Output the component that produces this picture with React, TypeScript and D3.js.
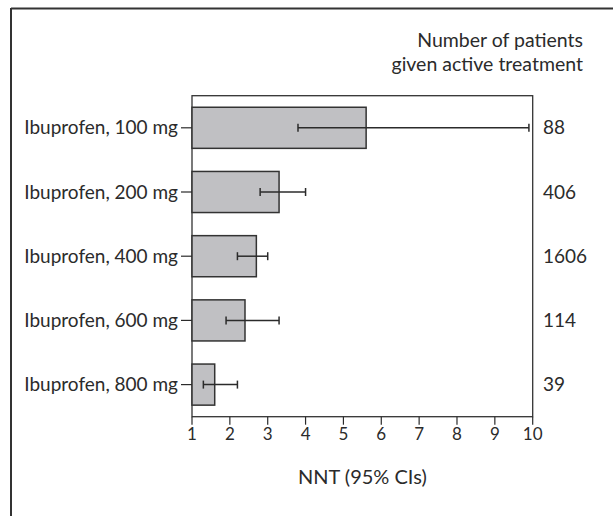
import React from "react";
import * as d3 from "d3";

// Ibuprofen dose groups, number-needed-to-treat with 95% confidence intervals
const doses = ["Ibuprofen, 100 mg", "Ibuprofen, 200 mg", "Ibuprofen, 400 mg", "Ibuprofen, 600 mg", "Ibuprofen, 800 mg"];
const nnt = [5.6, 3.3, 2.7, 2.4, 1.6];
const ciLow = [3.8, 2.8, 2.2, 1.9, 1.3];
const ciHigh = [9.9, 4.0, 3.0, 3.3, 2.2];
const patients = ["88", "406", "1606", "114", "39"];
const xTicks = [1, 2, 3, 4, 5, 6, 7, 8, 9, 10];

const W = 613;
const H = 516;
const plot = { left: 192, right: 532.7, top: 95.7, bottom: 416.7 };
const FONT = "Lato, 'Open Sans', sans-serif";
const INK = "#2b2b2b";

export default function App() {
  const x = d3.scaleLinear().domain([1, 10]).range([plot.left, plot.right]);
  const y = d3
    .scaleBand<string>()
    .domain(doses)
    .range([plot.top, plot.bottom])
    .paddingInner(0.36)
    .paddingOuter(0.18);
  const bw = y.bandwidth();
  const capH = 8;

  return (
    <svg
      width={W}
      height={H}
      viewBox={`0 0 ${W} ${H}`}
      style={{ position: "absolute", left: 0, top: 0, background: "#fff" }}
      fontFamily={FONT}
    >
      {/* page frame: top and left rules */}
      <line x1={11} x2={W} y1={8.5} y2={8.5} stroke="#333" strokeWidth={2} />
      <line x1={11} x2={11} y1={8} y2={H} stroke="#333" strokeWidth={2} />

      {/* column header */}
      <text x={583} y={46.5} textAnchor="end" fontSize={19.5} fill={INK}>
        Number of patients
      </text>
      <text x={583} y={71} textAnchor="end" fontSize={19.5} fill={INK}>
        given active treatment
      </text>

      {/* plot frame */}
      <rect
        x={plot.left}
        y={plot.top}
        width={plot.right - plot.left}
        height={plot.bottom - plot.top}
        fill="none"
        stroke="#333"
        strokeWidth={1.3}
      />

      {/* bars */}
      {doses.map((d, i) => {
        const y0 = y(d)!;
        const cy = y0 + bw / 2;
        return (
          <g key={d}>
            <rect
              x={x(1)}
              y={y0}
              width={x(nnt[i]) - x(1)}
              height={bw}
              fill="#c0c0c3"
              stroke="#333"
              strokeWidth={1.5}
            />
            <line x1={x(ciLow[i])} x2={x(ciHigh[i])} y1={cy} y2={cy} stroke={INK} strokeWidth={1.5} />
            <line x1={x(ciLow[i])} x2={x(ciLow[i])} y1={cy - capH / 2} y2={cy + capH / 2} stroke={INK} strokeWidth={1.5} />
            <line x1={x(ciHigh[i])} x2={x(ciHigh[i])} y1={cy - capH / 2} y2={cy + capH / 2} stroke={INK} strokeWidth={1.5} />
            {/* category tick and label */}
            <line x1={plot.left - 11} x2={plot.left} y1={cy} y2={cy} stroke={INK} strokeWidth={1.2} />
            <text x={plot.left - 14} y={cy} dy="0.35em" textAnchor="end" fontSize={19} fill={INK}>
              {d}
            </text>
            {/* patient count */}
            <text x={543} y={cy} dy="0.35em" textAnchor="start" fontSize={19} fill={INK}>
              {patients[i]}
            </text>
          </g>
        );
      })}

      {/* x axis ticks */}
      {xTicks.map((t) => (
        <g key={t}>
          <line x1={x(t)} x2={x(t)} y1={plot.bottom} y2={plot.bottom + 8} stroke={INK} strokeWidth={1.2} />
          <text x={x(t)} y={439.5} textAnchor="middle" fontSize={17} fill={INK}>
            {t}
          </text>
        </g>
      ))}

      <text x={(plot.left + plot.right) / 2} y={484} textAnchor="middle" fontSize={20} fill={INK}>
        NNT (95% CIs)
      </text>
    </svg>
  );
}
